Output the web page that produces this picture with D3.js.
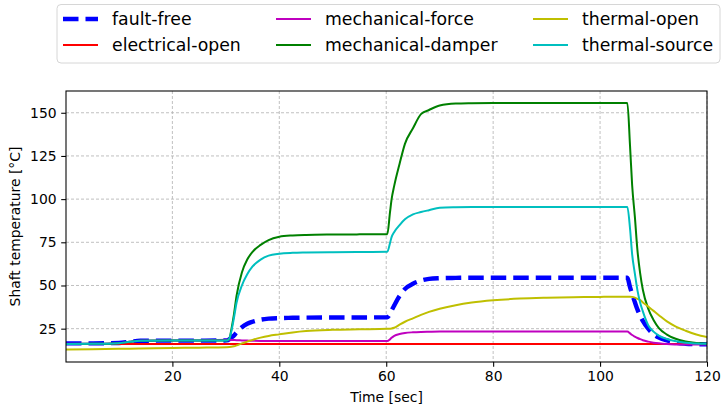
<!DOCTYPE html>
<html>
<head>
<meta charset="utf-8">
<script src="https://cdn.jsdelivr.net/npm/d3@7"></script>
<style>
  body { margin: 0; background: #fff; }
  svg { display: block; font-family: "DejaVu Sans", sans-serif; }
</style>
</head>
<body>
<svg id="chart" width="725" height="408"></svg>
<script>
// Simulation time stamps [sec], shared by every series
const times = [0.1, 5, 10, 12, 14, 20, 25, 30.2, 30.7, 31, 31.5, 32, 33, 34, 35, 36.5, 38, 40, 42.5, 45, 50, 55,
  60.2, 60.7, 61, 61.5, 62.5, 63.5, 65, 66.5, 68, 70, 73, 76, 80, 85, 90, 95, 100,
  105.1, 105.6, 106, 106.5, 107, 107.5, 108, 109, 110, 111, 112.5, 114, 116, 118, 120];

// Shaft temperature [°C] per scenario
const faultFree = [16.5, 16.5, 16.7, 17.4, 18.0, 18.1, 18.1, 18.2, 19.0, 19.8, 21.0, 22.8, 25.8, 27.8, 29.0, 30.2, 30.8, 31.1, 31.3, 31.4, 31.5, 31.5,
  31.6, 33.5, 35.5, 38.5, 44.0, 48.0, 51.0, 52.8, 53.8, 54.2, 54.4, 54.5, 54.5, 54.5, 54.5, 54.5, 54.5,
  54.5, 49.0, 45.0, 40.4, 36.0, 32.5, 29.5, 25.0, 21.8, 19.8, 18.2, 17.0, 16.3, 16.0, 15.9];
const electricalOpen = [16.1, 16.1, 16.1, 16.1, 16.1, 16.1, 16.1, 16.1, 16.1, 16.1, 16.1, 16.1, 16.1, 16.1, 16.1, 16.1, 16.1, 16.1, 16.1, 16.1, 16.1, 16.1,
  16.1, 16.1, 16.1, 16.1, 16.1, 16.1, 16.1, 16.1, 16.1, 16.1, 16.1, 16.1, 16.1, 16.1, 16.1, 16.1, 16.1,
  16.1, 16.1, 16.1, 16.1, 16.1, 16.1, 16.1, 16.1, 16.1, 16.1, 16.1, 16.1, 16.1, 16.1, 16.1];
const mechanicalForce = [16.2, 16.2, 16.6, 17.4, 18.0, 18.2, 18.2, 18.6, 18.6, 18.5, 18.4, 18.3, 18.2, 18.1, 18.0, 17.9, 17.9, 17.8, 17.8, 17.8, 17.8, 17.8,
  17.8, 18.8, 19.7, 20.8, 21.9, 22.5, 22.9, 23.1, 23.2, 23.3, 23.3, 23.3, 23.3, 23.3, 23.3, 23.3, 23.3,
  23.3, 22.3, 21.3, 20.4, 19.6, 18.9, 18.3, 17.5, 16.9, 16.5, 16.1, 15.9, 15.8, 15.8, 15.8];
const mechanicalDamper = [16.1, 16.2, 16.6, 17.4, 18.0, 18.2, 18.2, 18.2, 19.5, 24.0, 33.0, 44.0, 57.5, 65.0, 69.5, 73.5, 76.3, 78.2, 79.0, 79.3, 79.5, 79.6,
  79.7, 92.3, 99.8, 107.8, 120.5, 132.0, 141.0, 149.2, 151.6, 154.2, 155.3, 155.5, 155.6, 155.6, 155.6, 155.6, 155.6,
  155.6, 131.0, 108.0, 90.0, 70.0, 57.0, 47.5, 36.6, 30.0, 25.3, 21.6, 19.3, 17.6, 16.7, 16.3];
const thermalOpen = [13.0, 13.1, 13.3, 13.4, 13.5, 13.8, 14.0, 14.3, 14.4, 14.5, 14.8, 15.3, 16.5, 17.5, 18.5, 19.8, 20.8, 21.7, 22.8, 23.6, 24.3, 24.6,
  24.9, 25.0, 25.1, 25.5, 27.3, 29.0, 31.0, 33.0, 34.7, 36.5, 38.6, 40.1, 41.4, 42.4, 42.9, 43.2, 43.4,
  43.5, 43.5, 43.4, 43.0, 42.3, 41.5, 40.2, 37.8, 35.3, 32.8, 29.2, 26.5, 23.8, 21.6, 20.1];
const thermalSource = [16.1, 16.2, 16.6, 17.4, 18.0, 18.2, 18.2, 18.2, 19.5, 23.0, 31.0, 40.0, 50.0, 56.5, 61.0, 65.0, 67.3, 68.4, 68.9, 69.1, 69.3, 69.4,
  69.5, 74.5, 78.0, 81.0, 85.0, 88.3, 91.2, 92.5, 93.6, 95.0, 95.3, 95.4, 95.4, 95.4, 95.4, 95.4, 95.4,
  95.4, 83.0, 68.0, 57.0, 47.0, 40.0, 35.0, 27.0, 23.3, 21.0, 19.0, 17.8, 16.8, 16.4, 16.2];

const seriesNames = ["fault-free", "electrical-open", "mechanical-force", "mechanical-damper", "thermal-open", "thermal-source"];
const seriesValues = [faultFree, electricalOpen, mechanicalForce, mechanicalDamper, thermalOpen, thermalSource];
const seriesColors = ["#0000ff", "#ff0000", "#bf00bf", "#008000", "#bfbf00", "#00bfbf"];

const xTicks = [20, 40, 60, 80, 100, 120];
const yTicks = [25, 50, 75, 100, 125, 150];

const svg = d3.select("#chart");
const plot = { left: 66, right: 707, top: 91, bottom: 362 };

const x = d3.scaleLinear().domain([0.1, 120]).range([plot.left, plot.right]);
const y = d3.scaleLinear().domain([5.7, 162.6]).range([plot.bottom, plot.top]);

// grid
const grid = svg.append("g").attr("stroke", "#b0b0b0").attr("stroke-width", 0.8).attr("stroke-dasharray", "3,2");
xTicks.forEach(t => grid.append("line").attr("x1", x(t)).attr("x2", x(t)).attr("y1", plot.top).attr("y2", plot.bottom));
yTicks.forEach(t => grid.append("line").attr("x1", plot.left).attr("x2", plot.right).attr("y1", y(t)).attr("y2", y(t)));

// series
const clip = svg.append("clipPath").attr("id", "plotclip").append("rect")
  .attr("x", plot.left).attr("y", plot.top).attr("width", plot.right - plot.left).attr("height", plot.bottom - plot.top);

const line = d3.line().x(d => x(d[0])).y(d => y(d[1])).curve(d3.curveMonotoneX);
const lines = svg.append("g").attr("clip-path", "url(#plotclip)").attr("fill", "none");
seriesValues.forEach((vals, i) => {
  const pts = times.map((t, k) => [t, vals[k]]);
  const p = lines.append("path").attr("d", line(pts)).attr("stroke", seriesColors[i]);
  if (i === 0) {
    p.attr("stroke-width", 4.4).attr("stroke-dasharray", "15.5,7");
  } else {
    p.attr("stroke-width", 2).attr("stroke-linejoin", "round").attr("stroke-linecap", "square");
  }
});

// axes
const fontSize = 13.9;
const xAxis = d3.axisBottom(x).tickValues(xTicks).tickSize(4.8).tickPadding(4.6).tickFormat(d3.format("d"));
const yAxis = d3.axisLeft(y).tickValues(yTicks).tickSize(4.8).tickPadding(4.6).tickFormat(d3.format("d"));

const gx = svg.append("g").attr("transform", `translate(0,${plot.bottom})`).call(xAxis);
const gy = svg.append("g").attr("transform", `translate(${plot.left},0)`).call(yAxis);
[gx, gy].forEach(g => {
  g.select(".domain").remove();
  g.selectAll(".tick line").attr("stroke", "#000").attr("stroke-width", 1.07);
  g.selectAll(".tick text").attr("fill", "#000").style("font-size", fontSize + "px").style("font-family", "DejaVu Sans");
});

// frame
svg.append("rect")
  .attr("x", plot.left).attr("y", plot.top)
  .attr("width", plot.right - plot.left).attr("height", plot.bottom - plot.top)
  .attr("fill", "none").attr("stroke", "#000").attr("stroke-width", 1.07);

// axis labels
svg.append("text")
  .attr("x", (plot.left + plot.right) / 2).attr("y", 401.5)
  .attr("text-anchor", "middle").style("font-size", fontSize + "px")
  .text("Time [sec]");
svg.append("text")
  .attr("transform", `translate(19.5,${(plot.top + plot.bottom) / 2}) rotate(-90)`)
  .attr("text-anchor", "middle").style("font-size", fontSize + "px")
  .text("Shaft temperature [°C]");

// legend
const legend = svg.append("g");
legend.append("rect")
  .attr("x", 57).attr("y", 4.5).attr("width", 663).attr("height", 58.5)
  .attr("rx", 4).attr("fill", "#fff").attr("stroke", "#d6d6d6").attr("stroke-width", 1);
const colX = [63, 276, 533];
const rowY = [19, 45];
seriesNames.forEach((name, i) => {
  const cx = colX[Math.floor(i / 2)];
  const cy = rowY[i % 2];
  const h = legend.append("line")
    .attr("x1", cx).attr("x2", cx + 35).attr("y1", cy).attr("y2", cy)
    .attr("stroke", seriesColors[i]);
  if (i === 0) h.attr("stroke-width", 4.4).attr("stroke-dasharray", "15.5,7");
  else h.attr("stroke-width", 2);
  legend.append("text")
    .attr("x", cx + 49).attr("y", cy).attr("dy", "0.35em")
    .style("font-size", "17.3px")
    .text(name);
});
</script>
</body>
</html>
